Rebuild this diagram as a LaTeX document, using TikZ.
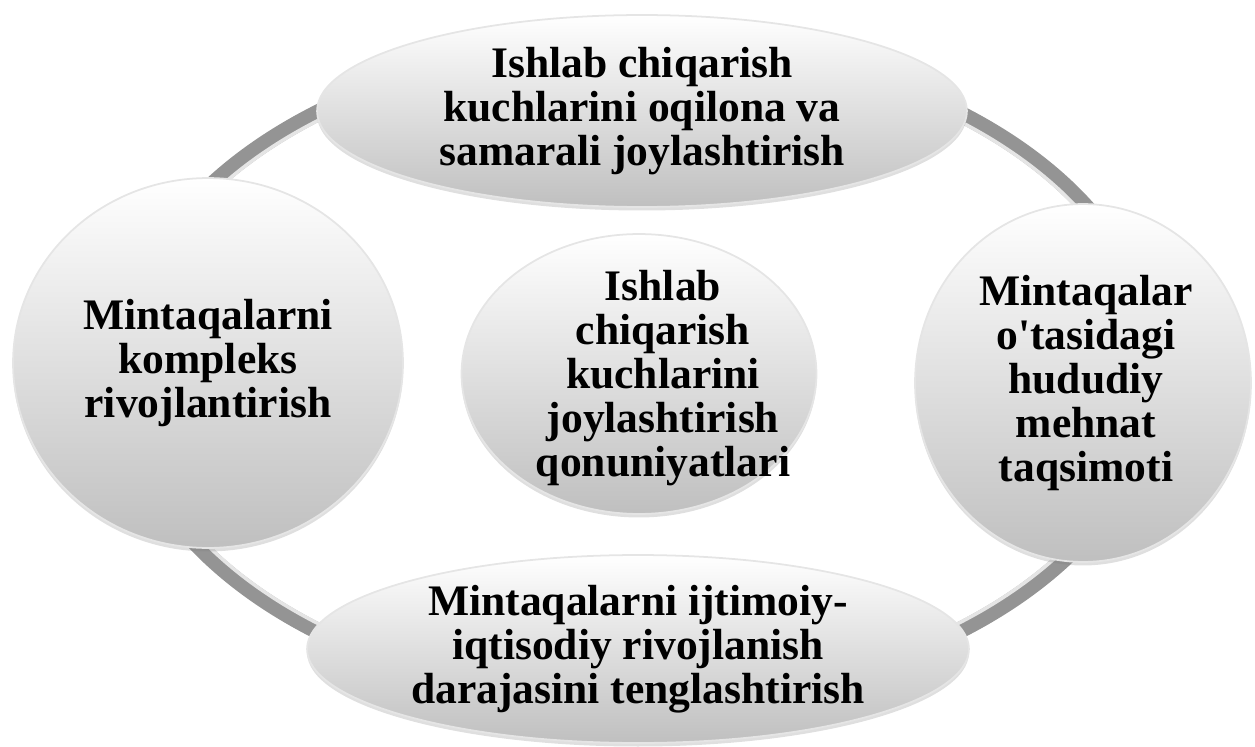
\documentclass[tikz,border=0pt]{standalone}
\usepackage{fontspec}
\setmainfont{Liberation Serif}
\usepackage{tikz}
\usetikzlibrary{shapes.geometric,shadows}
\tikzstyle{bubble}=[ellipse,draw=black!10,line width=1pt,top color=white,bottom color=black!25,drop shadow={opacity=0.25,shadow xshift=0pt,shadow yshift=-2pt},inner sep=0pt]
\tikzstyle{caption}=[align=center,inner sep=0pt,font=\bfseries\fontsize{24.8}{25}\selectfont]

\begin{document}
\begin{tikzpicture}[x=0.02cm,y=-0.02cm]
	\useasboundingbox (0,0) rectangle (1255,747);
	% ring behind the bubbles
	\coordinate (c) at (638,372);
	\draw[line width=9.5pt,black!42] (c) ellipse [x radius=517,y radius=330];
	\draw[line width=2pt,black!10] (c) ellipse [x radius=510,y radius=323];
	% bubbles
	\node [bubble,minimum width=13cm,minimum height=3.84cm] (top) at (642,111) {};
	\node [bubble,minimum width=7.8cm,minimum height=7.4cm] (left) at (208,363) {};
	\node [bubble,minimum width=6.72cm,minimum height=7.16cm] (right) at (1083,383) {};
	\node [bubble,minimum width=7.1cm,minimum height=5.6cm] (mid) at (639,374) {};
	\node [bubble,minimum width=13.24cm,minimum height=3.76cm] (bottom) at (638,649) {};
	% texts
	\node [caption] (top-t) at (top) {Ishlab chiqarish\\kuchlarini oqilona va\\samarali joylashtirish};
	\node [caption] (left-t) at (left) {Mintaqalarni\\kompleks\\rivojlantirish};
	\node [caption] (right-t) at ([xshift=0.06cm]right) {Mintaqalar\\o\textquotesingle tasidagi\\hududiy\\mehnat\\taqsimoti};
	\node [caption] (mid-t) at ([xshift=0.48cm,yshift=-0.08cm]mid) {Ishlab\\chiqarish\\kuchlarini\\joylashtirish\\qonuniyatlari};
	\node [caption] (bottom-t) at (bottom) {Mintaqalarni ijtimoiy-\\iqtisodiy rivojlanish\\darajasini tenglashtirish};
\end{tikzpicture}
\end{document}
